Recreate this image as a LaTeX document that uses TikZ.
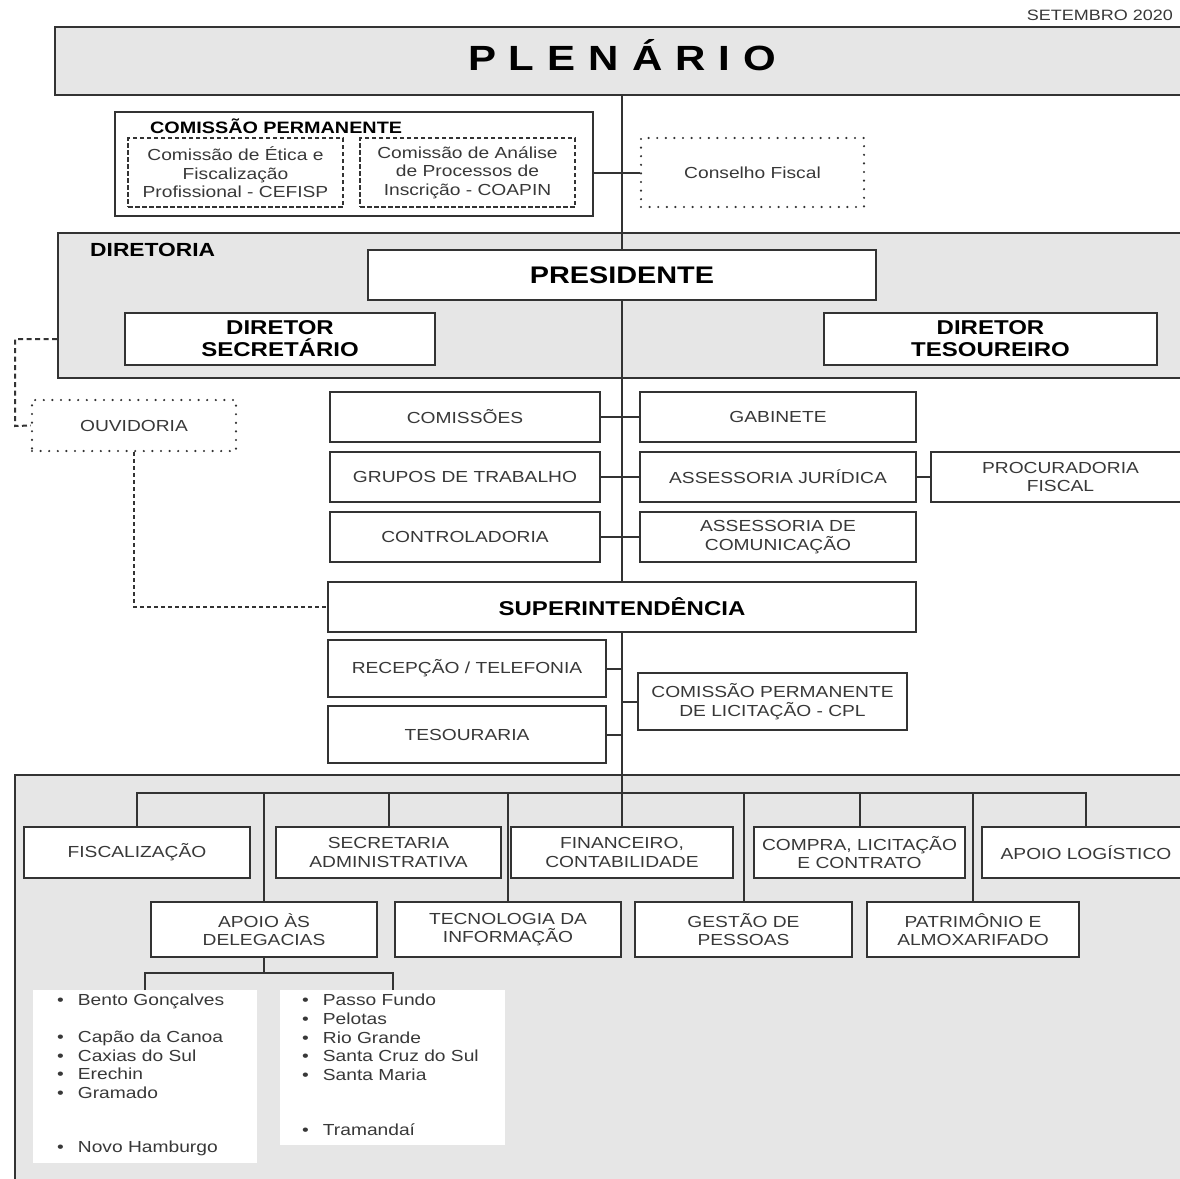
\documentclass[tikz,border=0pt]{standalone}
\usepackage{fontspec}
\setmainfont{Liberation Sans}[FakeStretch=1.2]
\usepackage{tikz}
\definecolor{linegrey}{HTML}{333333}
\definecolor{areagrey}{HTML}{E6E6E6}
\definecolor{textgrey}{HTML}{383838}
\newcommand{\unitfont}{\fontsize{16}{18.5}\selectfont}

\begin{document}
\begin{tikzpicture}[x=1pt,y=-1pt,
            every node/.style={inner sep=0pt, align=center},
            sz/.style 2 args={minimum width=#1pt, minimum height=#2pt},
            unit/.style={draw=linegrey, line width=2pt, fill=white, text=textgrey, font=\unitfont},
            headbox/.style={unit, text=black, font=\bfseries\fontsize{20}{22}\selectfont},
            area/.style={draw=linegrey, line width=2pt, fill=areagrey},
            dotbox/.style={draw=linegrey, line width=2.4pt, line cap=round, dash pattern=on 0pt off 8.6pt, text=textgrey, font=\unitfont},
            dashbox/.style={draw=linegrey, line width=1.8pt, dash pattern=on 4.5pt off 2.5pt, text=textgrey, font=\unitfont},
            link/.style={draw=linegrey, line width=2pt},
            dashlink/.style={link, dash pattern=on 5pt off 3.5pt},
            city/.style={anchor=west, text=textgrey, font=\unitfont}]
            \clip (0,0) rectangle (1180,1178);
            % grey areas
            \node (plenario) [area, sz={1135}{68}] at (622.5,61){};
            \node (diretoria) [area, sz={1132}{145}] at (624,305.5){};
            \node (operacional) [area, sz={1175}{415}] at (602.5,982.5){};
            \node (edicao) [anchor=east, text=textgrey, font=\fontsize{15}{17}\selectfont] at (1173,15){SETEMBRO 2020};
            \node (plentitle) [font=\bfseries\fontsize{35}{40}\selectfont] at (622,55){P\kern13pt L\kern13pt E\kern13pt N\kern13pt Á\kern13pt R\kern13pt I\kern13pt O};
            % comissao permanente
            \node (comperm) [unit, sz={478}{104}] at (354,164){};
            \node (compermlbl) [anchor=west, font=\bfseries\fontsize{16.5}{18}\selectfont] at (150,126){COMISSÃO PERMANENTE};
            \node (cefisp) [dashbox, sz={215}{69}] at (235.5,172.5){Comissão de Ética e\\Fiscalização\\Profissional - CEFISP};
            \node (coapin) [dashbox, sz={215}{69}] at (467.5,172.5){Comissão de Análise\\de Processos de\\Inscrição - COAPIN};
            \node (conselho) [dotbox, sz={223}{69}] at (752.5,172.5){Conselho Fiscal};
            % diretoria
            \node (diretorialbl) [anchor=west, font=\bfseries\fontsize{19}{21}\selectfont] at (90,250){DIRETORIA};
            \node (presidente) [headbox, sz={508}{50}, font=\bfseries\fontsize{24}{26}\selectfont] at (622,275){PRESIDENTE};
            \node (secretario) [headbox, sz={310}{52}] at (280,339){DIRETOR\\SECRETÁRIO};
            \node (tesoureiro) [headbox, sz={333}{52}] at (990.5,339){DIRETOR\\TESOUREIRO};
            \node (ouvidoria) [dotbox, sz={204}{51}] at (134,425.5){OUVIDORIA};
            \coordinate (ouvturn) at (15,426);
            % assessoramento
            \node (comissoes) [unit, sz={270}{50}] at (465,417){COMISSÕES};
            \node (gabinete) [unit, sz={276}{50}] at (778,417){GABINETE};
            \node (grupos) [unit, sz={270}{50}] at (465,477){GRUPOS DE TRABALHO};
            \node (juridica) [unit, sz={276}{50}] at (778,477){ASSESSORIA JURÍDICA};
            \node (procuradoria) [unit, sz={259}{50}] at (1060.5,477){PROCURADORIA\\FISCAL};
            \node (controladoria) [unit, sz={270}{50}] at (465,537){CONTROLADORIA};
            \node (comunicacao) [unit, sz={276}{50}] at (778,537){ASSESSORIA DE\\COMUNICAÇÃO};
            \node (superint) [headbox, sz={588}{50}] at (622,607){SUPERINTENDÊNCIA};
            \node (recepcao) [unit, sz={278}{57}] at (467,668.5){RECEPÇÃO / TELEFONIA};
            \node (tesouraria) [unit, sz={278}{57}] at (467,734.5){TESOURARIA};
            \node (cpl) [unit, sz={269}{57}] at (772.5,701.5){COMISSÃO PERMANENTE\\DE LICITAÇÃO - CPL};
            % operacional
            \coordinate (bus) at (622,793);
            \node (fiscalizacao) [unit, sz={226}{51}] at (137,852.5){FISCALIZAÇÃO};
            \node (secretaria) [unit, sz={225}{51}] at (388.5,852.5){SECRETARIA\\ADMINISTRATIVA};
            \node (financeiro) [unit, sz={222}{51}] at (622,852.5){FINANCEIRO,\\CONTABILIDADE};
            \node (compra) [unit, sz={211}{51}] at (859.5,852.5){COMPRA, LICITAÇÃO\\E CONTRATO};
            \node (logistico) [unit, sz={208}{51}] at (1086,852.5){APOIO LOGÍSTICO};
            \node (delegacias) [unit, sz={226}{55}] at (264,929.5){APOIO ÀS\\DELEGACIAS};
            \node (tecnologia) [unit, sz={226}{55}] at (508,929.5){TECNOLOGIA DA\\INFORMAÇÃO};
            \node (gestao) [unit, sz={217}{55}] at (743.5,929.5){GESTÃO DE\\PESSOAS};
            \node (patrimonio) [unit, sz={212}{55}] at (973,929.5){PATRIMÔNIO E\\ALMOXARIFADO};
            \coordinate (delegbus) at (264,973);
            \node (lista) [fill=white, sz={224}{173}] at (145,1076.5){};
            \node (listb) [fill=white, sz={225}{155}] at (392.5,1067.5){};
            \foreach \y/\t in {1001/Bento Gonçalves, 1038/Capão da Canoa, 1056/Caxias do Sul, 1074/Erechin, 1093/Gramado, 1148/Novo Hamburgo}
                \node (citya-\y) [city] at (57,\y){•\hspace{14pt}\t};
            \foreach \y/\t in {1000/Passo Fundo, 1019/Pelotas, 1038/Rio Grande, 1056/Santa Cruz do Sul, 1075/Santa Maria, 1130/Tramandaí}
                \node (cityb-\y) [city] at (302,\y){•\hspace{14pt}\t};
            % connectors
            \draw[link] (plenario.south -| presidente.north) -- (presidente.north);
            \draw[link] (presidente.south) -- (superint.north);
            \draw[link] (superint.south) -- (financeiro.north);
            \draw[link] (comperm.east |- conselho.west) -- (conselho.west);
            \draw[link] (comissoes) edge (gabinete);
            \draw[link] (grupos) edge (juridica);
            \draw[link] (juridica) edge (procuradoria);
            \draw[link] (controladoria) edge (comunicacao);
            \draw[link] (recepcao.east) -- (recepcao.east -| superint.south);
            \draw[link] (tesouraria.east) -- (tesouraria.east -| superint.south);
            \draw[link] (cpl.west) -- (cpl.west -| superint.south);
            \draw[link] (fiscalizacao.north) |- (bus) -| (logistico.north);
            \foreach \n in {secretaria,compra,delegacias,tecnologia,gestao,patrimonio}
                \draw[link] (bus -| \n.north) -- (\n.north);
            \draw[link] (delegacias.south) -- (delegbus);
            \draw[link] (lista.north) |- (delegbus) -| (listb.north);
            \draw[dashlink] (diretoria.west |- secretario) -| (ouvturn) -- (ouvidoria.west);
            \draw[dashlink, dash pattern=on 4pt off 3pt] (ouvidoria.south) |- (superint.west);
        \end{tikzpicture}
\end{document}
